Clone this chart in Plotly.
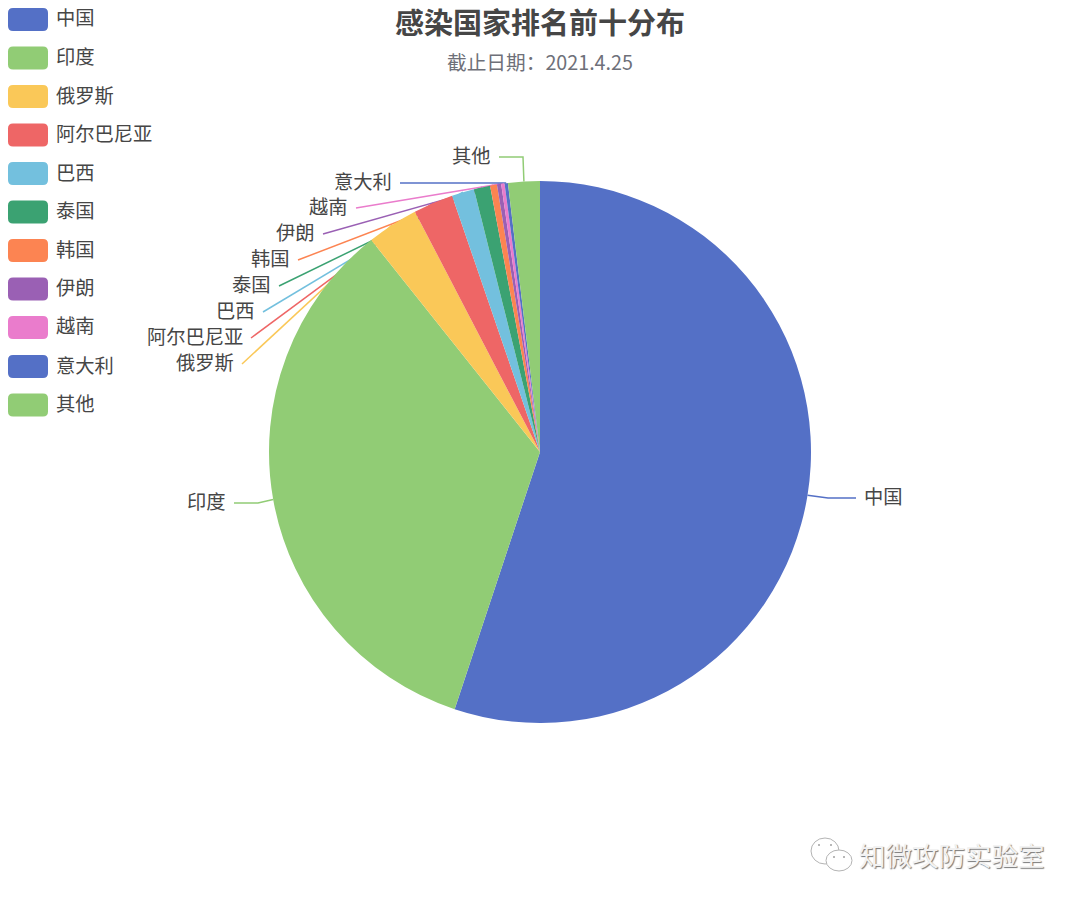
import math
import plotly.graph_objects as go

W, H = 1080, 904

# dados (% aproximado)
paises = ["中国", "印度", "俄罗斯", "阿尔巴尼亚", "巴西", "泰国", "韩国", "伊朗", "越南", "意大利", "其他"]
valores = [55.1, 34.2, 3.06, 2.38, 1.34, 0.97, 0.41, 0.25, 0.2, 0.2, 1.89]
cores = ["#5470c6", "#91cc75", "#fac858", "#ee6666", "#73c0de", "#3ba272",
         "#fc8452", "#9a60b4", "#ea7ccc", "#5470c6", "#91cc75"]

titulo = "感染国家排名前十分布"
subtitulo = "截止日期:2021.4.25".replace(":", "：")
marca = "知微攻防实验室"

FONTE = "Noto Sans CJK SC"
CX, CY, R = 540, 452, 271

# fim da linha guia e ponto intermediario (so layout)
fim_linha = [(856, 498), (234, 503), (242, 364), (251, 338), (263, 312), (279, 286),
             (298, 260), (323, 234), (356, 208), (400, 183), (499, 157)]
cotovelo = {0: (828, 498), 1: (258, 503), 10: (523, 157)}
legenda_y = [19.5, 58, 96.5, 135, 173.5, 212, 250.5, 289, 327.5, 366.5, 405]


def px(x):
    return x / W


def py(y):
    return 1 - y / H


def pill(x0, y0, x1, y1, r):
    # retangulo arredondado da legenda
    return (f"M {px(x0 + r)} {py(y0)} L {px(x1 - r)} {py(y0)} Q {px(x1)} {py(y0)} {px(x1)} {py(y0 + r)} "
            f"L {px(x1)} {py(y1 - r)} Q {px(x1)} {py(y1)} {px(x1 - r)} {py(y1)} "
            f"L {px(x0 + r)} {py(y1)} Q {px(x0)} {py(y1)} {px(x0)} {py(y1 - r)} "
            f"L {px(x0)} {py(y0 + r)} Q {px(x0)} {py(y0)} {px(x0 + r)} {py(y0)} Z")


def texto(x, y, s, size, color, anchor="left", altura=None, **kw):
    return dict(x=px(x), y=py(y), xref="paper", yref="paper", text=s, showarrow=False,
                height=altura, borderpad=0,
                xanchor=anchor, yanchor="middle", font=dict(family=FONTE, size=size, color=color, **kw))


fig = go.Figure(go.Pie(
    labels=paises, values=valores, sort=False, direction="clockwise", rotation=0,
    textinfo="none", hoverinfo="label+percent",
    marker=dict(colors=cores, line=dict(width=0)),
    domain=dict(x=[(CX - R) / W, (CX + R) / W], y=[py(CY + R), py(CY - R)]),
))

shapes = []
annots = []
total = sum(valores)
acum = 0
for i, p in enumerate(paises):
    ang = (acum + valores[i] / 2) / total * 2 * math.pi
    acum += valores[i]
    ax, ay = CX + R * math.sin(ang), CY - R * math.cos(ang)
    pts = [(ax, ay)]
    if i in cotovelo:
        pts.append(cotovelo[i])
    pts.append(fim_linha[i])
    d = "M " + " L ".join(f"{px(a)} {py(b)}" for a, b in pts)
    shapes.append(dict(type="path", path=d, xref="paper", yref="paper", layer="below",
                       line=dict(color=cores[i], width=1.5)))
    # rotulo
    fx, fy = fim_linha[i]
    if i == 0:
        annots.append(texto(fx + 7, fy - 2, p, 19.3, "#464646", altura=22))
    else:
        annots.append(texto(fx - 7, fy - 2, p, 19.3, "#464646", "right", altura=22))
    # legenda
    yy = legenda_y[i]
    shapes.append(dict(type="path", path=pill(8, yy - 11.5, 48, yy + 11.5, 5), xref="paper", yref="paper",
                       fillcolor=cores[i], line=dict(width=0)))
    annots.append(texto(55, yy - 2, p, 19.3, "#464646", altura=22))

annots.append(texto(540, 21, titulo, 29, "#464646", "center", altura=36, weight="bold"))
annots.append(texto(540, 61, subtitulo, 19.7, "#6e7079", "center"))
annots.append(texto(858, 854, marca, 26.5, "#f2f2f2", shadow="1px 1px 1px #777"))

# icone da marca d'agua
for x0, y0, x1, y1 in [(811, 838, 839, 864), (826, 850, 852, 871)]:
    shapes.append(dict(type="circle", xref="paper", yref="paper",
                       x0=px(x0), x1=px(x1), y0=py(y1), y1=py(y0),
                       fillcolor="#ffffff", line=dict(color="#b4b4b4", width=1)))
for x, y in [(819, 845), (831, 845), (834, 857), (844, 857)]:
    shapes.append(dict(type="circle", xref="paper", yref="paper",
                       x0=px(x - 1), x1=px(x + 1), y0=py(y + 1), y1=py(y - 1),
                       fillcolor="#a0a0a0", line=dict(width=0)))

fig.update_layout(width=W, height=H, margin=dict(l=0, r=0, t=0, b=0), showlegend=False,
                  paper_bgcolor="white", shapes=shapes, annotations=annots,
                  font=dict(family=FONTE))
fig.write_html("out.html", config=dict(displayModeBar=False),
               post_script="document.body.style.margin='0';document.body.style.overflow='hidden';")
